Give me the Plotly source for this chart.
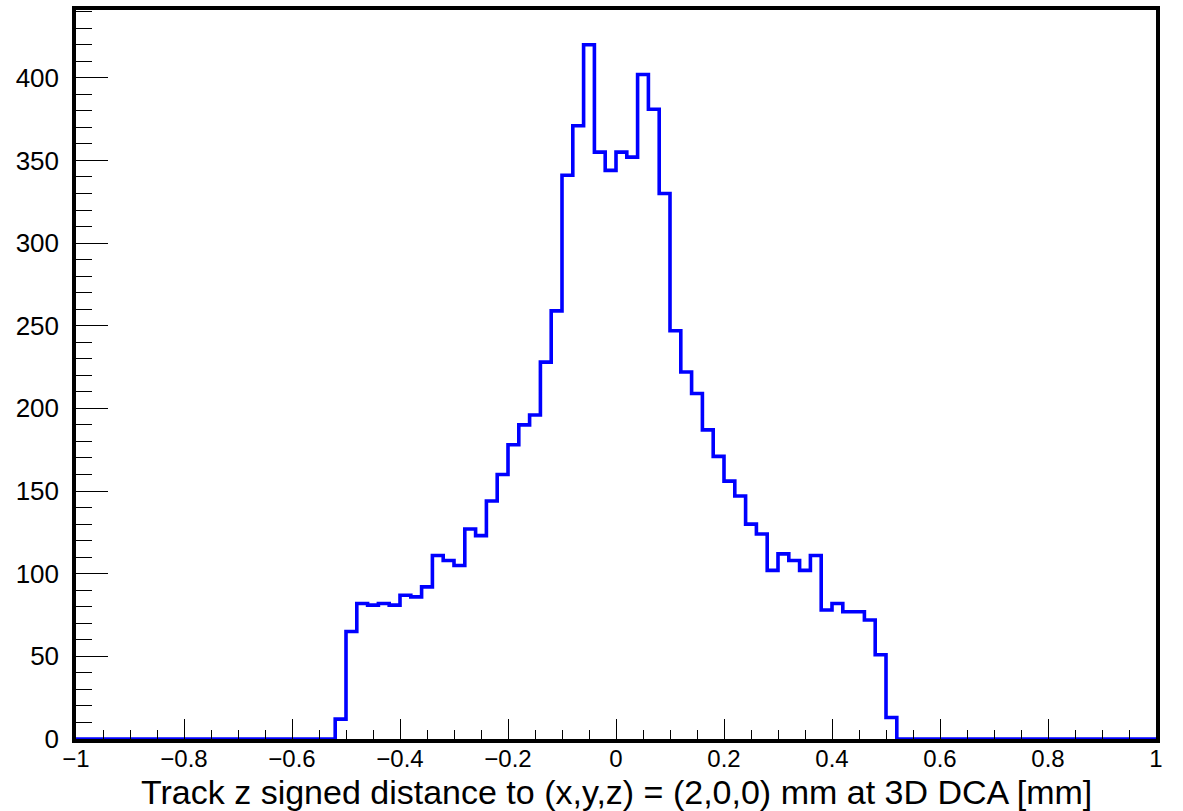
import numpy as np
import plotly.graph_objects as go

# Histogram definition (100 bins from -1 to 1)
x_min, x_max, n_bins = -1.0, 1.0, 100
first_nonzero_edge = -0.52
counts_nonzero = [12, 65, 82, 81, 82, 81, 87, 86, 92, 111,
                  108, 105, 127, 123, 144, 160, 178, 190, 196, 228,
                  259, 341, 371, 420, 355, 344, 355, 352, 402, 381,
                  330, 247, 222, 209, 187, 171, 156, 147, 130, 124,
                  102, 112, 108, 102, 111, 78, 82, 77, 77, 72,
                  51, 13]
x_title = "Track z signed distance to (x,y,z) = (2,0,0) mm at 3D DCA [mm]"

width = (x_max - x_min) / n_bins
edges = np.linspace(x_min, x_max, n_bins + 1)
counts = np.zeros(n_bins)
start = int(round((first_nonzero_edge - x_min) / width))
counts[start:start + len(counts_nonzero)] = counts_nonzero

xs = list(edges)
ys = list(counts) + [counts[-1]]

fig = go.Figure()
fig.add_trace(go.Scatter(x=xs, y=ys, mode="lines", line_shape="hv",
                         line=dict(color="#0000ff", width=3.6),
                         cliponaxis=False, hoverinfo="skip", showlegend=False))

font = "Liberation Sans, Arial, Helvetica, sans-serif"
fig.update_layout(
    width=1183, height=811,
    margin=dict(l=76, r=27, t=6, b=72),
    paper_bgcolor="white", plot_bgcolor="white",
    font=dict(family=font, color="black"),
    xaxis=dict(range=[x_min, x_max], dtick=0.2, tick0=-1,
               ticks="inside", ticklen=20, tickwidth=1.3, tickcolor="black",
               minor=dict(dtick=0.05, ticks="inside", ticklen=9, tickwidth=1.3, tickcolor="black"),
               showline=True, linecolor="black", linewidth=3.5, mirror=True,
               showgrid=False, zeroline=False,
               tickfont=dict(size=24, family=font), ticklabelstandoff=-5),
    yaxis=dict(range=[0, 441], dtick=50, tick0=0,
               ticks="inside", ticklen=32, tickwidth=1.3, tickcolor="black",
               minor=dict(dtick=10, ticks="inside", ticklen=16, tickwidth=1.3, tickcolor="black"),
               showline=True, linecolor="black", linewidth=3.5, mirror=True,
               showgrid=False, zeroline=False,
               tickfont=dict(size=26, family=font), ticklabelstandoff=8),
    annotations=[dict(text=x_title, xref="paper", yref="paper",
                      x=0.5, y=-(792 - 739) / 733, xanchor="center", yanchor="middle",
                      showarrow=False, font=dict(size=34, family=font, color="black"))],
)

fig.write_html("out.html")
